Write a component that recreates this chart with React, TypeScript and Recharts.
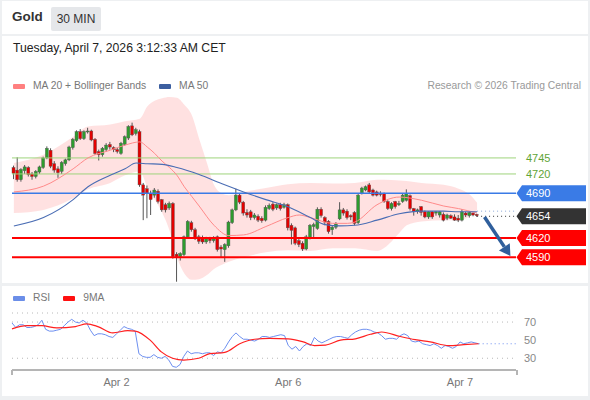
import React from "react";
import { ComposedChart, Bar, Line, Area, XAxis, YAxis, ReferenceLine, CartesianGrid } from "recharts";

// 30 min candles, index 0 = first candle on screen
const opens = [
  4730, 4726, 4711, 4725, 4730, 4720, 4716, 4723, 4730, 4745,
  4757, 4736, 4728, 4724, 4736, 4742, 4761, 4772, 4786, 4775,
  4786, 4787, 4774, 4755, 4750, 4758, 4766, 4761, 4758, 4752,
  4766, 4776, 4795, 4783, 4786, 4703, 4697, 4690, 4687, 4693,
  4680, 4672, 4667, 4674, 4595, 4591, 4594, 4622, 4644, 4633,
  4622, 4620, 4614, 4619, 4616, 4622, 4606, 4602, 4608, 4644,
  4664, 4687, 4676, 4660, 4661, 4652, 4654, 4651, 4648, 4666,
  4673, 4667, 4672, 4668, 4672, 4640, 4636, 4616, 4612, 4603,
  4620, 4638, 4635, 4665, 4652, 4646, 4633, 4637, 4650, 4664,
  4662, 4655, 4660, 4644, 4690, 4695, 4703, 4695, 4692, 4690,
  4690, 4677, 4666, 4677, 4672, 4677, 4679, 4686, 4666, 4662,
  4669, 4661, 4653, 4661, 4659, 4656, 4657, 4651, 4655, 4653,
  4651, 4648, 4659, 4655, 4659, 4657,
];
const highs = [
  4733, 4746, 4729, 4734, 4732, 4723, 4726, 4733, 4747, 4763,
  4760, 4740, 4732, 4740, 4744, 4764, 4776, 4788, 4790, 4788,
  4792, 4789, 4776, 4758, 4762, 4768, 4770, 4763, 4761, 4770,
  4780, 4796, 4800, 4792, 4789, 4706, 4702, 4694, 4698, 4696,
  4681, 4675, 4677, 4676, 4598, 4598, 4624, 4648, 4647, 4636,
  4625, 4624, 4622, 4622, 4623, 4624, 4609, 4612, 4647, 4666,
  4697, 4689, 4678, 4665, 4664, 4659, 4657, 4654, 4671, 4674,
  4676, 4674, 4675, 4675, 4674, 4643, 4638, 4620, 4615, 4625,
  4642, 4644, 4668, 4668, 4654, 4648, 4640, 4645, 4676, 4667,
  4665, 4657, 4662, 4689, 4700, 4702, 4706, 4697, 4694, 4693,
  4691, 4679, 4676, 4678, 4678, 4689, 4696, 4688, 4667, 4666,
  4670, 4663, 4662, 4662, 4662, 4662, 4660, 4658, 4657, 4657,
  4656, 4665, 4661, 4661, 4660, 4658,
];
const lows = [
  4712, 4708, 4708, 4720, 4716, 4711, 4713, 4720, 4728, 4743,
  4729, 4722, 4714, 4720, 4733, 4740, 4758, 4770, 4773, 4773,
  4783, 4771, 4750, 4741, 4747, 4755, 4758, 4754, 4752, 4750,
  4764, 4773, 4779, 4780, 4700, 4648, 4651, 4656, 4683, 4674,
  4661, 4660, 4664, 4588, 4552, 4585, 4592, 4620, 4630, 4617,
  4611, 4611, 4611, 4612, 4613, 4599, 4590, 4583, 4605, 4642,
  4662, 4673, 4655, 4652, 4648, 4649, 4645, 4644, 4646, 4664,
  4662, 4664, 4663, 4666, 4632, 4610, 4609, 4606, 4600, 4601,
  4618, 4620, 4633, 4652, 4640, 4627, 4625, 4634, 4648, 4655,
  4649, 4648, 4640, 4642, 4688, 4693, 4690, 4685, 4685, 4685,
  4675, 4664, 4663, 4666, 4670, 4675, 4677, 4663, 4655, 4658,
  4655, 4651, 4650, 4650, 4655, 4652, 4646, 4648, 4650, 4647,
  4645, 4646, 4653, 4652, 4654, 4653,
];
const closes = [
  4721, 4711, 4727, 4731, 4719, 4716, 4724, 4731, 4745, 4760,
  4732, 4726, 4722, 4738, 4742, 4762, 4774, 4786, 4775, 4786,
  4787, 4773, 4752, 4750, 4760, 4765, 4762, 4758, 4755, 4768,
  4778, 4794, 4781, 4789, 4703, 4687, 4690, 4680, 4695, 4677,
  4664, 4664, 4674, 4591, 4591, 4596, 4622, 4646, 4633, 4620,
  4615, 4614, 4619, 4616, 4620, 4602, 4603, 4610, 4645, 4664,
  4687, 4676, 4659, 4656, 4652, 4656, 4648, 4647, 4668, 4671,
  4665, 4672, 4666, 4672, 4636, 4632, 4612, 4610, 4603, 4622,
  4640, 4641, 4665, 4655, 4645, 4630, 4637, 4642, 4664, 4659,
  4652, 4653, 4643, 4687, 4698, 4700, 4692, 4687, 4687, 4688,
  4677, 4666, 4674, 4669, 4674, 4687, 4690, 4666, 4661, 4664,
  4660, 4653, 4661, 4653, 4661, 4661, 4648, 4656, 4651, 4648,
  4648, 4661, 4656, 4660, 4656, 4655,
];

// bollinger bands / moving averages read at these candle indices
const bbIdx = [0, 8, 16, 20, 26, 30, 34, 36, 38, 40, 42, 44, 46, 48, 50, 52, 54, 56, 58, 62, 68, 74, 80, 86, 92, 98, 100, 104, 106, 110, 116, 120, 123, 125];
const bbUpper = [4737, 4750, 4778, 4794, 4797, 4802, 4806, 4825, 4834, 4838, 4840, 4839, 4828, 4812, 4775, 4739, 4703, 4690, 4687, 4692, 4698, 4704, 4706, 4705, 4706, 4711, 4711, 4710, 4709, 4706, 4703, 4697, 4688, 4675];
const bbLower = [4659, 4664, 4682, 4696, 4706, 4718, 4724, 4700, 4680, 4660, 4632, 4590, 4565, 4555, 4556, 4562, 4572, 4578, 4583, 4590, 4598, 4601, 4600, 4604, 4604, 4600, 4605, 4628, 4640, 4646, 4648, 4648, 4654, 4664];

const ma20Idx = [0, 8, 16, 20, 26, 30, 34, 36, 38, 40, 42, 44, 46, 48, 50, 54, 58, 62, 68, 74, 77, 80, 86, 90, 92, 98, 104, 110, 116, 120, 125];
const ma20 = [4692, 4701, 4728, 4745, 4757, 4765, 4770, 4762, 4752, 4740, 4730, 4718, 4700, 4685, 4670, 4640, 4624, 4625, 4638, 4652, 4656, 4652, 4643, 4643, 4645, 4672, 4684, 4679, 4670, 4666, 4659];

const ma50Idx = [0, 8, 16, 20, 26, 30, 33, 36, 40, 44, 50, 56, 62, 68, 74, 80, 84, 88, 92, 98, 104, 110, 116, 120, 125];
const ma50 = [4639, 4652, 4680, 4700, 4718, 4728, 4737, 4736, 4735, 4730, 4719, 4705, 4692, 4680, 4669, 4652, 4641, 4639, 4640, 4648, 4658, 4662, 4662, 4661, 4661];

const rsi = [
  69, 64, 67, 67, 64, 64, 65, 67, 72, 62,
  60, 60, 61, 62, 66, 70, 73, 70, 69, 72,
  69, 61, 55, 57, 57, 56, 54, 53, 57, 61,
  65, 63, 62, 60, 35, 32, 31, 31, 34, 31,
  30, 32, 28, 21, 20, 23, 32, 38, 35, 36,
  36, 35, 36, 36, 33, 37, 36, 41, 48, 54,
  58, 54, 51, 51, 50, 49, 51, 54, 54, 53,
  54, 55, 56, 55, 44, 40, 43, 38, 43, 46,
  44, 53, 49, 47, 49, 51, 53, 54, 54, 53,
  52, 56, 59, 61, 62, 62, 61, 59, 58, 55,
  51, 52, 52, 51, 55, 57, 55, 49, 48, 49,
  46, 45, 44, 46, 44, 41, 44, 43, 41, 43,
  48, 46, 47, 48, 47, 46,
];
const rsiMaIdx = [0, 4, 8, 12, 17, 20, 23, 27, 31, 33, 37, 40, 43, 46, 50, 53, 57, 61, 65, 69, 74, 78, 81, 84, 88, 92, 96, 99, 104, 108, 112, 117, 121, 125];
const rsiMa = [62.5, 66, 66, 63.5, 65, 68, 65, 58, 60.5, 60, 50, 37, 30, 28, 30, 35, 36.5, 46, 51, 52, 51.5, 48, 44, 44.5, 50, 51.5, 56.5, 59, 54, 50.5, 48, 44, 45, 46];

const SLOTS = 136;
const dayTicks = [28, 74, 120];
const dayLabels = ["Apr 2", "Apr 6", "Apr 7"];
const resistances = [4745, 4720];
const pivot = 4690;
const supports = [4620, 4590];
const lastPrice = 4654;
const ma50Last = 4662;
const target = 4592;
const rsiLast = 46;

const rows = Array.from({ length: SLOTS }, (_, i) => {
  const row: any = { i };
  if (i < closes.length) {
    row.o = opens[i];
    row.h = highs[i];
    row.l = lows[i];
    row.c = closes[i];
    row.rsi = rsi[i];
  }
  const b = bbIdx.indexOf(i);
  if (b >= 0) row.bb = [bbLower[b], bbUpper[b]];
  const m = ma20Idx.indexOf(i);
  if (m >= 0) row.ma20 = ma20[m];
  const n = ma50Idx.indexOf(i);
  if (n >= 0) row.ma50 = ma50[n];
  const r = rsiMaIdx.indexOf(i);
  if (r >= 0) row.rsiMa = rsiMa[r];
  return row;
});

const FONT = "'Liberation Sans', Arial, sans-serif";

function Candle(props: any) {
  const { x, y, width, height, payload } = props;
  if (payload == null || payload.o == null) return null;
  const { o, h, l, c } = payload;
  const k = h === l ? 0 : height / (h - l);
  const cx = x + width / 2;
  const top = y + (h - Math.max(o, c)) * k;
  const bh = Math.max(1, Math.abs(o - c) * k);
  const up = c >= o;
  return (
    <g>
      <line x1={cx} x2={cx} y1={y} y2={y + height} stroke="#555" strokeWidth={1} />
      <rect x={cx - 1.5} y={top} width={3} height={bh} fill={up ? "#2e9b2e" : "#e30000"} stroke="#555" strokeWidth={0.4} />
    </g>
  );
}

const levelShape = (text: string, color: string, width: number, tag: boolean, textColor?: string) => (p: any) => {
  const { x1, y1, x2 } = p;
  const y = y1;
  return (
    <g>
      <line x1={x1} x2={x2} y1={y} y2={y} stroke={color} strokeWidth={width} />
      {tag ? (
        <polygon
          points={`${x2 + 0.5},${y} ${x2 + 6},${y - 8} ${x2 + 70},${y - 8} ${x2 + 70},${y + 8} ${x2 + 6},${y + 8}`}
          fill={color}
        />
      ) : null}
      <text x={x2 + 10} y={y + 4} fontSize={11} fill={tag ? "#fff" : textColor} fontFamily={FONT}>
        {text}
      </text>
    </g>
  );
};

const tagOnly = (text: string, color: string) => (p: any) => {
  const { x2, y1 } = p;
  const y = y1;
  return (
    <g>
      <polygon
        points={`${x2 + 0.5},${y} ${x2 + 6},${y - 8} ${x2 + 70},${y - 8} ${x2 + 70},${y + 8} ${x2 + 6},${y + 8}`}
        fill={color}
      />
      <text x={x2 + 10} y={y + 4} fontSize={11} fill="#fff" fontFamily={FONT}>
        {text}
      </text>
    </g>
  );
};

function ArrowShape(p: any) {
  const { x1, y1, x2, y2 } = p;
  const ang = Math.atan2(y2 - y1, x2 - x1);
  const hl = 11;
  const hw = 6.5;
  const bx = x2 - hl * Math.cos(ang);
  const by = y2 - hl * Math.sin(ang);
  const px = -Math.sin(ang) * hw;
  const py = Math.cos(ang) * hw;
  return (
    <g>
      <line x1={x1} y1={y1} x2={bx} y2={by} stroke="#2f5f9c" strokeWidth={3.5} />
      <polygon points={`${x2},${y2} ${bx + px},${by + py} ${bx - px},${by - py}`} fill="#2f5f9c" />
    </g>
  );
}

const swatch = (color: string) => (
  <span style={{ display: "inline-block", width: 12, height: 5, background: color, marginRight: 8, verticalAlign: "middle", borderRadius: 1 }} />
);

export default function App() {
  return (
    <div style={{ position: "absolute", left: 0, top: 0, width: 590, height: 400, background: "#eef0f2", fontFamily: FONT, overflow: "hidden" }}>
      {/* cards */}
      <div style={{ position: "absolute", left: 2, top: 1, width: 586, height: 33, background: "#fff" }} />
      <div style={{ position: "absolute", left: 2, top: 36, width: 586, height: 247, background: "#fff" }} />
      <div style={{ position: "absolute", left: 2, top: 286, width: 586, height: 110, background: "#fff" }} />

      {/* header */}
      <div style={{ position: "absolute", left: 12, top: 9, fontSize: 13.5, fontWeight: 700, color: "#333" }}>Gold</div>
      <div style={{ position: "absolute", left: 51, top: 7, width: 50, height: 24, background: "#e5e7ea", borderRadius: 2, fontSize: 12, color: "#333", textAlign: "center", lineHeight: "24px" }}>
        30 MIN
      </div>
      <div style={{ position: "absolute", left: 13, top: 41, fontSize: 12.2, color: "#222" }}>Tuesday, April 7, 2026 3:12:33 AM CET</div>

      {/* legend */}
      <div style={{ position: "absolute", left: 13, top: 80, fontSize: 10.3, color: "#777", whiteSpace: "nowrap" }}>
        {swatch("#ff8080")}MA 20 + Bollinger Bands
        <span style={{ display: "inline-block", width: 13 }} />
        {swatch("#3c5fa0")}MA 50
      </div>
      <div style={{ position: "absolute", right: 9, top: 80, fontSize: 10.3, color: "#999" }}>Research © 2026 Trading Central</div>

      <div style={{ position: "absolute", left: 13, top: 292, fontSize: 10.3, color: "#777", whiteSpace: "nowrap" }}>
        {swatch("#6b8ee8")}RSI
        <span style={{ display: "inline-block", width: 13 }} />
        {swatch("#ff1010")}9MA
      </div>

      {/* price chart */}
      <div style={{ position: "absolute", left: 0, top: 0 }}>
        <ComposedChart width={590} height={290} data={rows} margin={{ top: 97, right: 74, left: 12, bottom: 7 }}>
          <XAxis dataKey="i" type="category" hide />
          <YAxis type="number" domain={[4550, 4840]} allowDataOverflow hide />
          <Area dataKey="bb" type="monotone" connectNulls stroke="none" fill="#ff9c9c" fillOpacity={0.3} isAnimationActive={false} />
          {resistances.map((v) => (
            <ReferenceLine key={v} y={v} shape={levelShape(String(v), "#9ed47c", 1, false, "#5fa436")} />
          ))}
          <ReferenceLine y={pivot} shape={levelShape(String(pivot), "#3a7be6", 1.5, true)} />
          {supports.map((v) => (
            <ReferenceLine key={v} y={v} shape={levelShape(String(v), "#ff0000", 2, true)} />
          ))}
          <Line dataKey="ma20" type="monotone" connectNulls stroke="#ff8a8a" strokeWidth={1} dot={false} isAnimationActive={false} />
          <Line dataKey="ma50" type="monotone" connectNulls stroke="#4a6db4" strokeWidth={1.1} dot={false} isAnimationActive={false} />
          <Bar dataKey={(d: any) => (d.o == null ? null : [d.l, d.h])} barSize={3} shape={<Candle />} isAnimationActive={false} />
          <ReferenceLine
            segment={[{ x: 125, y: ma50Last }, { x: 135, y: ma50Last }]}
            stroke="#8aa6d8"
            strokeDasharray="1 3"
          />
          <ReferenceLine
            segment={[{ x: 125, y: lastPrice }, { x: 135, y: lastPrice }]}
            stroke="#333"
            strokeDasharray="1 3"
          />
          <ReferenceLine y={lastPrice} shape={tagOnly(String(lastPrice), "#333333")} />
          <ReferenceLine segment={[{ x: 127, y: lastPrice - 1 }, { x: 134, y: target }]} shape={<ArrowShape />} />
        </ComposedChart>
      </div>

      {/* RSI chart */}
      <div style={{ position: "absolute", left: 0, top: 286 }}>
        <ComposedChart width={590} height={110} data={rows} margin={{ top: 27, right: 0, left: 12, bottom: 6 }}>
          <CartesianGrid vertical={false} stroke="#b8b8b8" strokeDasharray="1 4" />
          <XAxis
            dataKey="i"
            type="category"
            ticks={dayTicks}
            interval={0}
            tickFormatter={(v: any) => dayLabels[dayTicks.indexOf(Number(v))] ?? ""}
            tickLine={false}
            axisLine={{ stroke: "#b5b5b5", strokeWidth: 2 }}
            tick={{ fontSize: 11, fill: "#777" }}
            height={20}
          />
          <YAxis
            orientation="right"
            domain={[17, 80]}
            ticks={[30, 50, 70]}
            width={74}
            axisLine={false}
            tickLine={false}
            tick={{ fontSize: 11, fill: "#888", textAnchor: "start" }}
          />
          <Line dataKey="rsi" type="linear" stroke="#6d8ff0" strokeWidth={1} dot={false} isAnimationActive={false} />
          <Line dataKey="rsiMa" type="monotone" connectNulls stroke="#ff2020" strokeWidth={1.2} dot={false} isAnimationActive={false} />
          <ReferenceLine segment={[{ x: 125, y: rsiLast }, { x: 135, y: rsiLast }]} stroke="#6d8ff0" strokeDasharray="1 3" />
        </ComposedChart>
      </div>
      <div style={{ position: "absolute", left: 11, top: 370, width: 503, height: 5, borderLeft: "2px solid #b5b5b5", borderRight: "2px solid #b5b5b5" }} />
    </div>
  );
}
